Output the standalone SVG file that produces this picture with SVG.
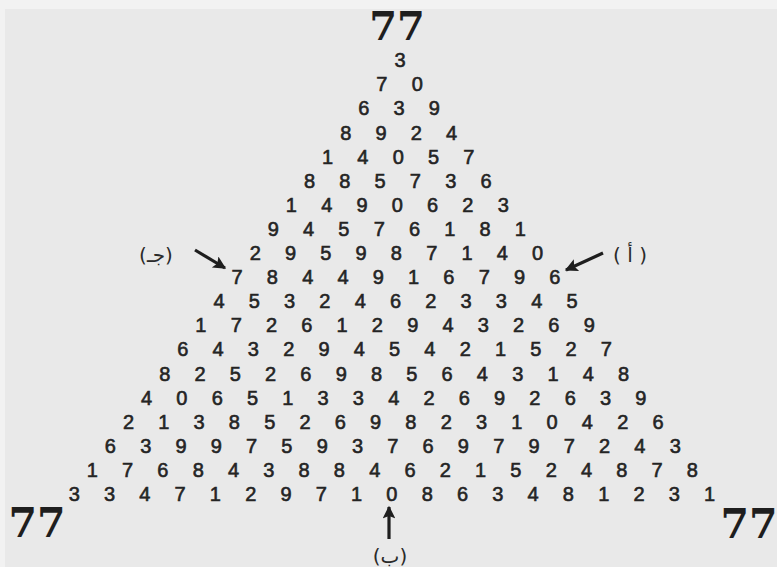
<svg xmlns="http://www.w3.org/2000/svg" width="777" height="567" viewBox="0 0 777 567">
<style>
.d{font-family:"Liberation Sans",Arial,sans-serif;font-size:20px;fill:#242424;text-anchor:middle;stroke:#242424;stroke-width:0.6}
.big{font-family:"DejaVu Serif",serif;font-weight:bold;font-size:41px;fill:#1e1e1e;text-anchor:middle}
.lab{font-family:"DejaVu Sans",sans-serif;font-size:20px;fill:#2a2a2a;text-anchor:middle}
.arr{stroke:#1e1e1e;stroke-width:3.2;fill:none;marker-end:url(#ah)}
</style>
<defs>
<marker id="ah" viewBox="0 0 10 10" refX="9" refY="5" markerWidth="5" markerHeight="4" orient="auto" markerUnits="strokeWidth">
<path d="M0,0 L10,5 L0,10 L2,5 Z" fill="#1e1e1e"/>
</marker>
</defs>
<rect x="0" y="0" width="777" height="567" fill="#f2f2f2"/>
<rect x="5" y="9" width="772" height="558" fill="#e9e9e9"/>
<g id="corners">
<text class="big" x="397" y="40" style="font-size:40px">77</text>
<text class="big" x="37" y="537">77</text>
<text class="big" x="749" y="538">77</text>
</g>
<g id="triangle">
<text id="r1" class="d" x="400" y="67.2">3</text>
<text id="r2" class="d" x="381.9 417.2" y="91.3">70</text>
<text id="r3" class="d" x="363.8 399.1 434.4" y="115.4">639</text>
<text id="r4" class="d" x="345.7 381.0 416.3 451.6" y="139.5">8924</text>
<text id="r5" class="d" x="327.6 362.9 398.2 433.5 468.8" y="163.6">14057</text>
<text id="r6" class="d" x="309.5 344.8 380.1 415.4 450.7 486.0" y="187.7">885736</text>
<text id="r7" class="d" x="291.4 326.7 362.0 397.3 432.6 467.9 503.2" y="211.8">1490623</text>
<text id="r8" class="d" x="273.3 308.6 343.9 379.2 414.5 449.8 485.1 520.4" y="235.9">94576181</text>
<text id="r9" class="d" x="255.2 290.5 325.8 361.1 396.4 431.7 467.0 502.3 537.6" y="260">295987140</text>
<text id="r10" class="d" x="237.1 272.4 307.7 343.0 378.3 413.6 448.9 484.2 519.5 554.8" y="284.1">7844916796</text>
<text id="r11" class="d" x="219.0 254.3 289.6 324.9 360.2 395.5 430.8 466.1 501.4 536.7 572.0" y="308.2">45324623345</text>
<text id="r12" class="d" x="200.9 236.2 271.5 306.8 342.1 377.4 412.7 448.0 483.3 518.6 553.9 589.2" y="332.3">172612943269</text>
<text id="r13" class="d" x="182.8 218.1 253.4 288.7 324.0 359.3 394.6 429.9 465.2 500.5 535.8 571.1 606.4" y="356.4">6432945421527</text>
<text id="r14" class="d" x="164.7 200.0 235.3 270.6 305.9 341.2 376.5 411.8 447.1 482.4 517.7 553.0 588.3 623.6" y="380.5">82526985643148</text>
<text id="r15" class="d" x="146.6 181.9 217.2 252.5 287.8 323.1 358.4 393.7 429.0 464.3 499.6 534.9 570.2 605.5 640.8" y="404.6">406513342692639</text>
<text id="r16" class="d" x="128.5 163.8 199.1 234.4 269.7 305.0 340.3 375.6 410.9 446.2 481.5 516.8 552.1 587.4 622.7 658.0" y="428.7">2138526982310426</text>
<text id="r17" class="d" x="110.4 145.7 181.0 216.3 251.6 286.9 322.2 357.5 392.8 428.1 463.4 498.7 534.0 569.3 604.6 639.9 675.2" y="452.8">63997593769797243</text>
<text id="r18" class="d" x="92.3 127.6 162.9 198.2 233.5 268.8 304.1 339.4 374.7 410.0 445.3 480.6 515.9 551.2 586.5 621.8 657.1 692.4" y="476.9">176843884621524878</text>
<text id="r19" class="d" x="74.2 109.5 144.8 180.1 215.4 250.7 286.0 321.3 356.6 391.9 427.2 462.5 497.8 533.1 568.4 603.7 639.0 674.3 709.6" y="501">3347129710863481231</text>
</g>
<g id="labels">
<text id="lab-jim" class="lab" x="156" y="262">(جـ)</text>
<text id="lab-alif" class="lab" x="630" y="262">( أ )</text>
<text id="lab-ba" class="lab" x="390" y="563">(ب)</text>
</g>
<g id="connectors">
<line class="arr" x1="195" y1="250" x2="225" y2="268"/>
<line class="arr" x1="603" y1="253" x2="566" y2="270"/>
<line class="arr" x1="389" y1="539" x2="389" y2="507"/>
</g>
</svg>
